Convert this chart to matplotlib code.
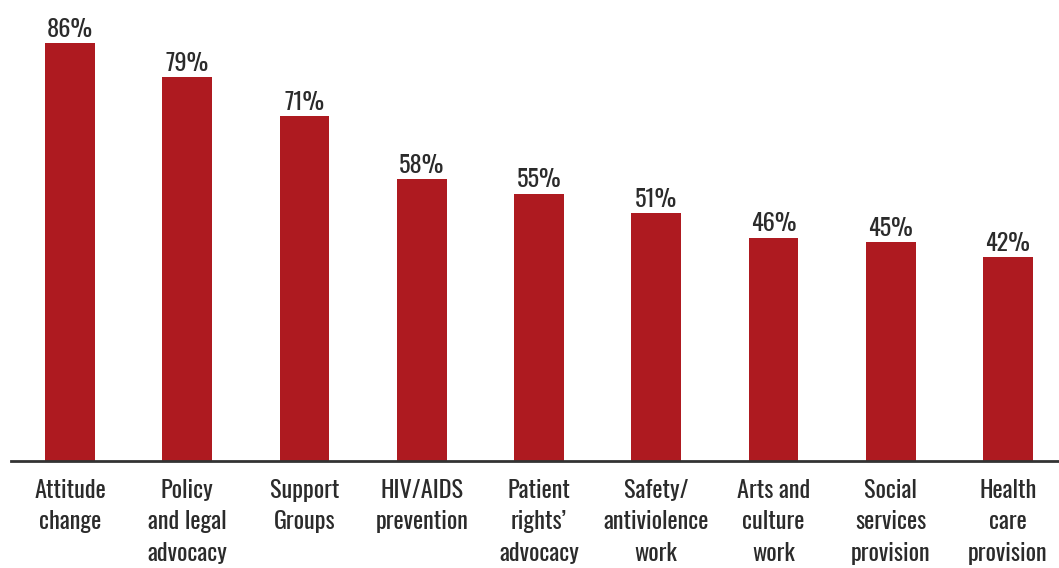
import matplotlib.pyplot as plt
import matplotlib.transforms as mtransforms

categories = ["Attitude\nchange", "Policy\nand legal\nadvocacy", "Support\nGroups",
              "HIV/AIDS\nprevention", "Patient\nrights’\nadvocacy", "Safety/\nantiviolence\nwork",
              "Arts and\nculture\nwork", "Social\nservices\nprovision", "Health\ncare\nprovision"]
values = [86, 79, 71, 58, 55, 51, 46, 45, 42]

bar_color = "#ae1a20"
text_color = "#2b2b2b"
font = ["Oswald", "Barlow Condensed", "DejaVu Sans"]

fig = plt.figure(figsize=(10.59, 5.68), dpi=100)
ax = fig.add_axes([0.0104, 0.1884, 0.9896, 0.8116])

x = list(range(len(values)))
ax.bar(x, values, width=0.426, color=bar_color, zorder=2)
ax.set_xlim(-0.503, 8.435)
ax.set_ylim(0, 94.9)

for xi, v in zip(x, values):
    ax.text(xi, v + 0.5, f"{v}%", ha="center", va="bottom", fontsize=17.5,
            family=font, weight="light", color=text_color)

trans = mtransforms.blended_transform_factory(ax.transData, ax.transAxes)
for xi, lab in zip(x, categories):
    ax.text(xi, -0.038, lab, ha="center", va="top", fontsize=17.5, family=font,
            weight="light", color=text_color, linespacing=1.45, transform=trans,
            clip_on=False)

for s in ["top", "right", "left"]:
    ax.spines[s].set_visible(False)
ax.spines["bottom"].set_color("#333333")
ax.spines["bottom"].set_linewidth(2)
ax.set_xticks([])
ax.set_yticks([])

fig.savefig("out.png", dpi=100)
